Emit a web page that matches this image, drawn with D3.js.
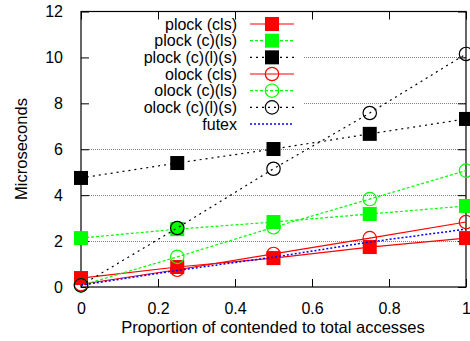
<!DOCTYPE html>
<html>
<head>
<meta charset="utf-8">
<script src="https://cdn.jsdelivr.net/npm/d3@7"></script>
<style>
  body { margin: 0; background: #fff; }
  text { font-family: "Liberation Sans", Arial, sans-serif; font-size: 16px; fill: #000; }
</style>
</head>
<body>
<svg id="chart" width="470" height="341"></svg>
<script>
// x positions (proportion of contended accesses)
const proportions = [0, 0.25, 0.5, 0.75, 1];

const plockCls = [0.39, 0.87, 1.26, 1.74, 2.13];
const plockCLs = [2.13, 2.52, 2.83, 3.18, 3.53];
const plockCLS = [4.75, 5.4, 6.01, 6.67, 7.32];
const olockCls = [0.12, 0.75, 1.44, 2.13, 2.83];
const olockCLs = [0.07, 1.31, 2.6, 3.83, 5.07];
const olockCLS = [0.07, 2.57, 5.15, 7.58, 10.15];
const futex = [0.08, 0.72, 1.3, 1.96, 2.52];

const xTicks = [0, 0.2, 0.4, 0.6, 0.8, 1];
const yTicks = [0, 2, 4, 6, 8, 10, 12];

const series = [
  { name: 'plock (cls)', values: plockCls, color: '#ff0000', dash: null, marker: 'square' },
  { name: 'plock (c)(ls)', values: plockCLs, color: '#00ff00', dash: '3,2', marker: 'square' },
  { name: 'plock (c)(l)(s)', values: plockCLS, color: '#000000', dash: '2,4', marker: 'square' },
  { name: 'olock (cls)', values: olockCls, color: '#ff0000', dash: null, marker: 'circle' },
  { name: 'olock (c)(ls)', values: olockCLs, color: '#00ff00', dash: '3,2', marker: 'circle' },
  { name: 'olock (c)(l)(s)', values: olockCLS, color: '#000000', dash: '2,4', marker: 'circle' },
  { name: 'futex', values: futex, color: '#0000ff', dash: '2,2', marker: null }
];

const svg = d3.select('#chart');
const plotLeft = 81, plotRight = 466, plotTop = 11.5, plotBottom = 287;

const x = d3.scaleLinear().domain([0, 1]).range([plotLeft, plotRight]);
const y = d3.scaleLinear().domain([0, 12]).range([plotBottom, plotTop]);

// grid lines (upper ones stop short of the key)
const keyRight = 304;
svg.append('g')
  .selectAll('line')
  .data(yTicks.filter(d => d > 0 && d < 12))
  .enter().append('line')
  .attr('x1', d => d >= 8 ? keyRight : plotLeft)
  .attr('x2', plotRight)
  .attr('y1', d => Math.round(y(d)) + 0.5)
  .attr('y2', d => Math.round(y(d)) + 0.5)
  .attr('stroke', '#808080')
  .attr('stroke-width', 1)
  .attr('stroke-dasharray', '1,1');

// axes with inward ticks
const axisBottom = d3.axisBottom(x).tickValues(xTicks).tickSize(-8).tickPadding(16)
  .tickFormat(d => d3.format('')(d));
const gx = svg.append('g').attr('transform', `translate(0,${plotBottom})`).call(axisBottom);
const axisTop = d3.axisTop(x).tickValues(xTicks).tickSize(-8).tickFormat('');
const gxt = svg.append('g').attr('transform', `translate(0,${plotTop})`).call(axisTop);
const axisLeft = d3.axisLeft(y).tickValues(yTicks).tickSize(-8).tickPadding(18);
const gy = svg.append('g').attr('transform', `translate(${plotLeft},0)`).call(axisLeft);
const axisRight = d3.axisRight(y).tickValues(yTicks).tickSize(-8).tickFormat('');
const gyr = svg.append('g').attr('transform', `translate(${plotRight},0)`).call(axisRight);

[gx, gxt, gy, gyr].forEach(g => {
  g.select('.domain').remove();
  g.selectAll('.tick line').attr('stroke', '#000');
  g.selectAll('text').attr('font-size', null).attr('font-family', null);
});
gx.selectAll('text').attr('dy', '0.71em');

// frame
svg.append('rect')
  .attr('x', plotLeft).attr('y', plotTop)
  .attr('width', plotRight - plotLeft).attr('height', plotBottom - plotTop)
  .attr('fill', 'none').attr('stroke', '#000').attr('stroke-width', 1.2);

function drawMarker(g, s, cx, cy) {
  if (s.marker === 'square') {
    g.append('rect')
      .attr('x', cx - 7).attr('y', cy - 7)
      .attr('width', 14).attr('height', 14)
      .attr('fill', s.color);
  } else if (s.marker === 'circle') {
    g.append('circle')
      .attr('cx', cx).attr('cy', cy).attr('r', 6.7)
      .attr('fill', 'none').attr('stroke', s.color).attr('stroke-width', 1.2);
  }
}

const line = d3.line().x((d, i) => x(proportions[i])).y(d => y(d));

const plot = svg.append('g');
series.forEach(s => {
  const g = plot.append('g');
  g.append('path')
    .attr('d', line(s.values))
    .attr('fill', 'none')
    .attr('stroke', s.color)
    .attr('stroke-width', s.dash === '2,2' ? 1.5 : 1.2)
    .attr('stroke-dasharray', s.dash);
  s.values.forEach((v, i) => drawMarker(g, s, x(proportions[i]), y(v)));
});

// key
const key = svg.append('g');
series.forEach((s, i) => {
  const ky = 24 + i * 16.67;
  key.append('text')
    .attr('x', 237).attr('y', ky).attr('dy', '0.35em')
    .attr('text-anchor', 'end')
    .text(s.name);
  key.append('line')
    .attr('x1', 250).attr('x2', 294).attr('y1', ky).attr('y2', ky)
    .attr('stroke', s.color)
    .attr('stroke-width', s.dash === '2,2' ? 1.5 : 1.2)
    .attr('stroke-dasharray', s.dash);
  drawMarker(key, s, 272, ky);
});

// axis labels
svg.append('text')
  .attr('x', 273).attr('y', 333)
  .attr('text-anchor', 'middle')
  .style('font-size', '16.5px')
  .text('Proportion of contended to total accesses');
svg.append('text')
  .attr('transform', 'translate(27,149) rotate(-90)')
  .attr('text-anchor', 'middle')
  .style('font-size', '16.5px')
  .text('Microseconds');
</script>
</body>
</html>
